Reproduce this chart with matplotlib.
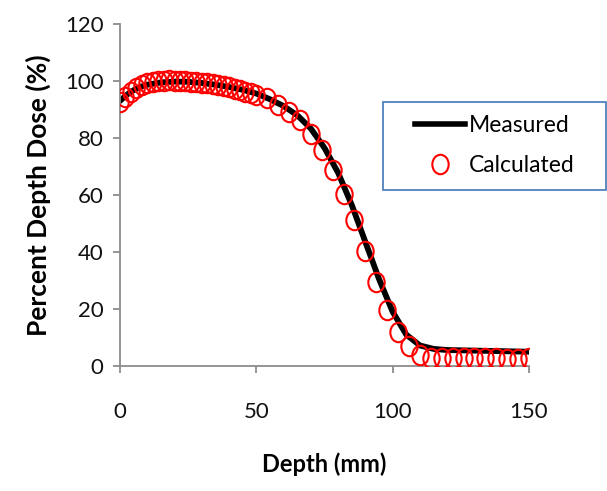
#!/usr/bin/env python3

import matplotlib
matplotlib.use('Agg')
import matplotlib.pyplot as plt
from matplotlib.path import Path
from matplotlib.transforms import Affine2D
from matplotlib.patches import Rectangle
from matplotlib.lines import Line2D

# measured depth dose curve
MEAS_DEPTH = [0, 2, 4, 6, 8, 10, 15, 20, 25, 30, 35, 40, 45, 50, 55, 60, 65, 70,
              75, 80, 85, 90, 95, 100, 105, 110, 115, 120, 130, 140, 150]
MEAS_DOSE = [93.0, 94.8, 96.2, 97.3, 98.1, 98.7, 99.5, 99.8, 99.7, 99.3, 98.7,
             97.9, 96.9, 95.6, 93.6, 91.2, 88.0, 83.3, 76.5, 67.8, 56.5, 43.5,
             30.5, 19.0, 11.0, 7.2, 6.0, 5.6, 5.4, 5.2, 5.0]

# calculated points
CALC_DEPTH = [0, 2, 4, 6, 8, 10, 12, 14, 16, 18, 20, 22, 24, 26, 28, 30, 32, 34,
              36, 38, 40, 42, 44, 46, 48, 50, 54, 58, 62, 66, 70, 74, 78, 82, 86,
              90, 94, 98, 102, 106, 110, 114, 118, 122, 126, 130, 134, 138, 142,
              146, 150]
CALC_DOSE = [92.5, 94.5, 96.3, 97.6, 98.5, 99.2, 99.6, 99.9, 100.1, 100.2, 100.1,
             100.0, 99.9, 99.7, 99.6, 99.4, 99.2, 98.9, 98.6, 98.2, 97.8, 97.3,
             96.8, 96.3, 95.7, 95.0, 93.9, 91.6, 89.2, 86.3, 81.4, 75.8, 68.8,
             60.4, 51.2, 40.5, 29.6, 19.6, 12.0, 7.0, 3.9, 2.9, 2.7, 2.8, 2.8,
             2.9, 2.9, 2.8, 2.6, 2.6, 2.7]

X_TICKS = [0, 50, 100, 150]
Y_TICKS = [0, 20, 40, 60, 80, 100, 120]

plt.rcParams['font.family'] = ['Lato', 'DejaVu Sans']

W, H = 607, 491
fig = plt.figure(figsize=(W / 100, H / 100), dpi=100)
ax = fig.add_axes([120 / W, 1 - 366 / H, (529 - 120) / W, (366 - 24) / H])

# slightly tall open ellipse for the calculated points
oval = Path.unit_circle().transformed(Affine2D().scale(0.84, 1.0))

ax.plot(MEAS_DEPTH, MEAS_DOSE, color='black', lw=4.2, solid_capstyle='round',
        zorder=2)
ax.plot(CALC_DEPTH, CALC_DOSE, ls='none', marker=oval, ms=14, mfc='none',
        mec='#ff0000', mew=1.5, zorder=3)

ax.set_xlim(0, 150)
ax.set_ylim(0, 120)
ax.set_xticks(X_TICKS)
ax.set_yticks(Y_TICKS)

gray = '#8c8c8c'
for side in ('top', 'right'):
    ax.spines[side].set_visible(False)
for side in ('left', 'bottom'):
    ax.spines[side].set_color(gray)
    ax.spines[side].set_linewidth(1.3)
ax.tick_params(axis='both', colors=gray, length=5, width=1.3, labelsize=16,
               labelcolor='#111111')
ax.tick_params(axis='x', pad=21)
ax.tick_params(axis='y', pad=7)

ax.set_xlabel('Depth (mm)', fontsize=17, fontweight='bold', labelpad=22)
ax.set_ylabel('Percent Depth Dose (%)', fontsize=19, fontweight='bold',
              labelpad=10)

# legend frame
fig.patches.append(Rectangle((383 / W, 1 - 190 / H), (606 - 383) / W, 88 / H,
                             transform=fig.transFigure, fill=False,
                             edgecolor='#4f81bd', lw=1.3))

handles = [Line2D([], [], color='black', lw=4.0),
           Line2D([], [], ls='none', marker=oval, ms=14, mfc='none',
                  mec='#ff0000', mew=1.5)]
fig.legend(handles, ['Measured', 'Calculated'], loc='center left',
           bbox_to_anchor=(415 / W, 1 - 145.5 / H), frameon=False,
           fontsize=16.5, handlelength=2.2, handletextpad=0.15,
           labelspacing=0.8, borderpad=0, borderaxespad=0)

fig.savefig('out.png', dpi=100)
